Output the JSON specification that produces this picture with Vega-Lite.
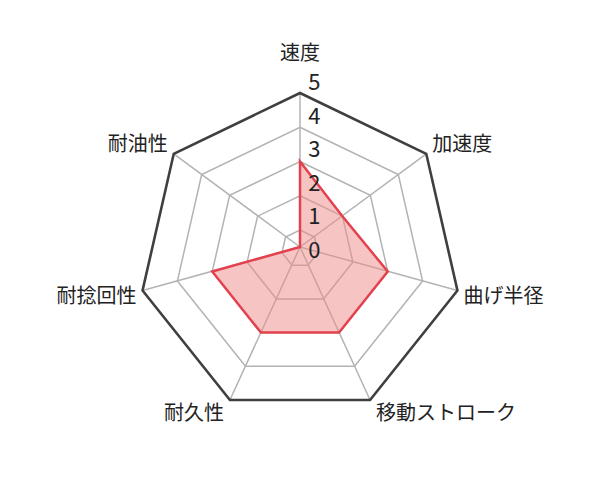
{
  "$schema": "https://vega.github.io/schema/vega-lite/v6.json",
  "description": "Radar chart: cable performance ratings on seven criteria (0-5).",
  "width": 600,
  "height": 503,
  "autosize": {"type": "none"},
  "padding": 0,
  "background": "white",
  "config": {
    "view": {"stroke": null},
    "text": {"font": "Noto Sans CJK JP", "color": "#222222"}
  },
  "datasets": {
    "scores": [
      {"axis": "速度", "i": 0, "value": 3},
      {"axis": "加速度", "i": 1, "value": 2},
      {"axis": "曲げ半径", "i": 2, "value": 3},
      {"axis": "移動ストローク", "i": 3, "value": 3},
      {"axis": "耐久性", "i": 4, "value": 3},
      {"axis": "耐捻回性", "i": 5, "value": 3},
      {"axis": "耐油性", "i": 6, "value": 0}
    ],
    "rings": [
      {"level": 1, "i": [0, 1, 2, 3, 4, 5, 6]},
      {"level": 2, "i": [0, 1, 2, 3, 4, 5, 6]},
      {"level": 3, "i": [0, 1, 2, 3, 4, 5, 6]},
      {"level": 4, "i": [0, 1, 2, 3, 4, 5, 6]},
      {"level": 5, "i": [0, 1, 2, 3, 4, 5, 6]}
    ],
    "ticks": [{"k": 0}, {"k": 1}, {"k": 2}, {"k": 3}, {"k": 4}, {"k": 5}]
  },
  "encoding": {
    "x": {"field": "x", "type": "quantitative", "scale": {"domain": [-8.3916, 8.3916], "nice": false, "zero": false}, "axis": null},
    "y": {"field": "y", "type": "quantitative", "scale": {"domain": [-7.1608, 6.9091], "nice": false, "zero": false}, "axis": null}
  },
  "layer": [
    {
      "data": {"name": "scores"},
      "transform": [
        {"calculate": "2*PI*datum.i/7", "as": "t"},
        {"calculate": "0", "as": "x"},
        {"calculate": "0", "as": "y"},
        {"calculate": "4.5175*sin(datum.t)", "as": "x5"},
        {"calculate": "4.5175*cos(datum.t) - 0.21", "as": "y5"}
      ],
      "mark": {"type": "rule", "stroke": "#b3b3b3", "strokeWidth": 1.5},
      "encoding": {
        "x2": {"field": "x5"},
        "y2": {"field": "y5"}
      }
    },
    {
      "data": {"name": "rings"},
      "transform": [
        {"flatten": ["i"]},
        {"filter": "datum.level < 5"},
        {"calculate": "2*PI*datum.i/7", "as": "t"},
        {"calculate": "(datum.level - 0.4825)*sin(datum.t)", "as": "x"},
        {"calculate": "(datum.level - 0.4825)*cos(datum.t) - 0.042*datum.level", "as": "y"}
      ],
      "mark": {"type": "line", "interpolate": "linear-closed", "stroke": "#b3b3b3", "strokeWidth": 1.5},
      "encoding": {
        "detail": {"field": "level", "type": "nominal"},
        "order": {"field": "i", "type": "quantitative"}
      }
    },
    {
      "data": {"name": "rings"},
      "transform": [
        {"flatten": ["i"]},
        {"filter": "datum.level == 5"},
        {"calculate": "2*PI*datum.i/7", "as": "t"},
        {"calculate": "(datum.level - 0.4825)*sin(datum.t)", "as": "x"},
        {"calculate": "(datum.level - 0.4825)*cos(datum.t) - 0.042*datum.level", "as": "y"}
      ],
      "mark": {"type": "line", "interpolate": "linear-closed", "stroke": "#3f3f3f", "strokeWidth": 2.6},
      "encoding": {
        "order": {"field": "i", "type": "quantitative"}
      }
    },
    {
      "data": {"name": "scores"},
      "transform": [
        {"calculate": "2*PI*datum.i/7", "as": "t"},
        {"calculate": "max(0, datum.value - 0.4825)*sin(datum.t)", "as": "x"},
        {"calculate": "max(0, datum.value - 0.4825)*cos(datum.t) - 0.042*datum.value", "as": "y"}
      ],
      "mark": {"type": "line", "interpolate": "linear-closed", "fill": "#ef8a8a", "fillOpacity": 0.5, "stroke": "#e4414f", "strokeWidth": 2.5},
      "encoding": {
        "order": {"field": "i", "type": "quantitative"}
      }
    },
    {
      "data": {"name": "ticks"},
      "transform": [
        {"calculate": "0.4", "as": "x"},
        {"calculate": "0.94*datum.k - 0.11", "as": "y"}
      ],
      "mark": {"type": "text", "fontSize": 22, "align": "center", "baseline": "middle"},
      "encoding": {
        "text": {"field": "k", "type": "quantitative"}
      }
    },
    {
      "data": {"name": "scores"},
      "transform": [
        {"calculate": "2*PI*datum.i/7", "as": "t"},
        {"calculate": "sin(datum.t)", "as": "s"},
        {"calculate": "cos(datum.t)", "as": "c"},
        {"calculate": "4.5175*datum.s + (abs(datum.s) < 0.01 ? 0 : (datum.s > 0 ? 1 : -1))*(6 + 10*length(datum.axis))/35.75", "as": "x"},
        {"calculate": "4.5175*datum.c - 0.21 - (datum.i == 0 ? -39 : datum.c > 0.3 ? -8.5 : datum.c > -0.5 ? 7 : 13.5)/35.75", "as": "y"}
      ],
      "mark": {"type": "text", "fontSize": 20, "align": "center", "baseline": "middle"},
      "encoding": {
        "text": {"field": "axis", "type": "nominal"}
      }
    }
  ]
}
